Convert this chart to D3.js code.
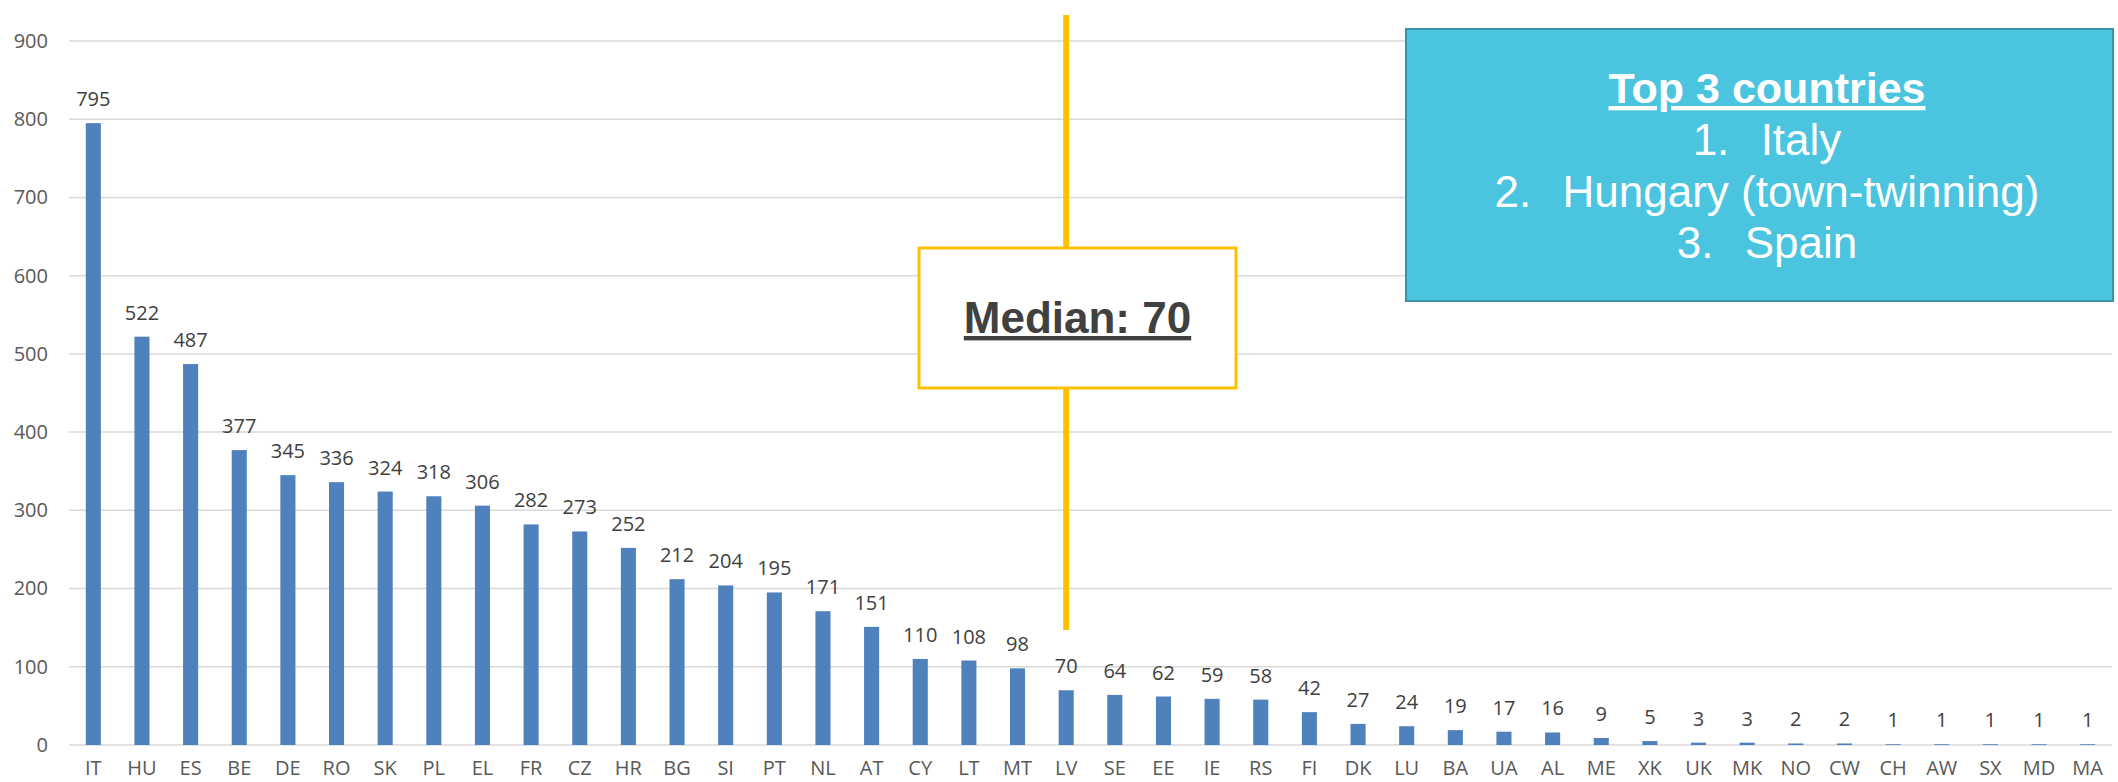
<!DOCTYPE html>
<html>
<head>
<meta charset="utf-8">
<script src="https://cdn.jsdelivr.net/npm/d3@7"></script>
<style>
  body { margin: 0; background: #fff; }
</style>
</head>
<body>
<div id="chart"></div>
<script>
// Data
const countries = ["IT", "HU", "ES", "BE", "DE", "RO", "SK", "PL", "EL", "FR", "CZ", "HR", "BG", "SI",
    "PT", "NL", "AT", "CY", "LT", "MT", "LV", "SE", "EE", "IE", "RS", "FI", "DK", "LU", "BA", "UA",
    "AL", "ME", "XK", "UK", "MK", "NO", "CW", "CH", "AW", "SX", "MD", "MA"];
const values = [795, 522, 487, 377, 345, 336, 324, 318, 306, 282, 273, 252, 212, 204,
    195, 171, 151, 110, 108, 98, 70, 64, 62, 59, 58, 42, 27, 24, 19, 17,
    16, 9, 5, 3, 3, 2, 2, 1, 1, 1, 1, 1];
const yTicks = [0, 100, 200, 300, 400, 500, 600, 700, 800, 900];
const medianCountry = "LV";
const medianLabel = "Median: 70";
const topTitle = "Top 3 countries";
const topList = ["Italy", "Hungary (town-twinning)", "Spain"];

// Set dimensions and margins
const width = 2118;
const height = 782;
const margin = { top: 41, right: 6, bottom: 37, left: 69 };

const svg = d3.select("#chart")
    .append("svg")
    .attr("width", width)
    .attr("height", height);

const data = countries.map((c, i) => ({ country: c, value: values[i] }));

// Scales
const xScale = d3.scaleBand()
    .domain(countries)
    .range([margin.left, width - margin.right])
    .paddingInner(0.69)
    .paddingOuter(0.345);

const yScale = d3.scaleLinear()
    .domain([0, 900])
    .range([height - margin.bottom, margin.top]);

const font = "'Open Sans', sans-serif";
const fs = "20px";

// Gridlines
svg.append("g")
    .selectAll("line")
    .data(yTicks)
    .enter()
    .append("line")
    .attr("x1", margin.left)
    .attr("x2", width - margin.right)
    .attr("y1", d => yScale(d))
    .attr("y2", d => yScale(d))
    .attr("stroke", "#d9d9d9")
    .attr("stroke-width", 1.5);

// Y axis
const yAxis = svg.append("g")
    .attr("transform", `translate(${margin.left - 21},0)`)
    .call(d3.axisLeft(yScale).tickValues(yTicks).tickSize(0).tickPadding(0));
yAxis.select(".domain").remove();
yAxis.selectAll("text")
    .style("font-family", font)
    .style("font-size", fs)
    .attr("fill", "#595959");

// X axis
const xAxis = svg.append("g")
    .attr("transform", `translate(0,${height - margin.bottom})`)
    .call(d3.axisBottom(xScale).tickSize(0).tickPadding(16));
xAxis.select(".domain").remove();
xAxis.selectAll("text")
    .style("font-family", font)
    .style("font-size", fs)
    .attr("fill", "#595959");

// Bars
svg.selectAll("rect.bar")
    .data(data)
    .enter()
    .append("rect")
    .attr("class", "bar")
    .attr("x", d => xScale(d.country))
    .attr("y", d => yScale(d.value))
    .attr("width", xScale.bandwidth())
    .attr("height", d => yScale(0) - yScale(d.value))
    .attr("fill", "#4f81bd");

// Value labels
svg.selectAll("text.val")
    .data(data)
    .enter()
    .append("text")
    .attr("class", "val")
    .attr("x", d => xScale(d.country) + xScale.bandwidth() / 2)
    .attr("y", d => yScale(d.value) - 17)
    .attr("text-anchor", "middle")
    .style("font-family", font)
    .style("font-size", fs)
    .attr("fill", "#404040")
    .text(d => d.value);

// Median line and box
const mx = xScale(medianCountry) + xScale.bandwidth() / 2;
svg.append("line")
    .attr("x1", mx).attr("x2", mx)
    .attr("y1", 15).attr("y2", 630)
    .attr("stroke", "#ffc000")
    .attr("stroke-width", 6);

svg.append("rect")
    .attr("x", 919).attr("y", 248)
    .attr("width", 317).attr("height", 140)
    .attr("fill", "#fff")
    .attr("stroke", "#ffc000")
    .attr("stroke-width", 3);

svg.append("text")
    .attr("x", 1077.5).attr("y", 333)
    .attr("text-anchor", "middle")
    .style("font-family", "'Liberation Sans', Arial, sans-serif")
    .style("font-size", "44px")
    .style("font-weight", "bold")
    .style("text-decoration", "underline")
    .attr("fill", "#404040")
    .text(medianLabel);

// Top 3 box
svg.append("rect")
    .attr("x", 1406).attr("y", 29)
    .attr("width", 707).attr("height", 272)
    .attr("fill", "#4bc4df")
    .attr("stroke", "#3a93a9")
    .attr("stroke-width", 2);

const boxCx = 1767;
svg.append("text")
    .attr("x", boxCx).attr("y", 103)
    .attr("text-anchor", "middle")
    .style("font-family", "'Liberation Sans', Arial, sans-serif")
    .style("font-size", "43px")
    .style("font-weight", "bold")
    .style("text-decoration", "underline")
    .attr("fill", "#fff")
    .text(topTitle);

// numbered lines, centred as a whole (number + tab + label)
const tab = 68;
topList.forEach((label, i) => {
    const y = 155 + i * 51.5;
    const t = svg.append("text")
        .attr("y", y)
        .style("font-family", "'Liberation Sans', Arial, sans-serif")
        .style("font-size", "44px")
        .attr("fill", "#fff")
        .text(label);
    const lw = t.node().getComputedTextLength();
    const x0 = boxCx - (tab + lw) / 2;
    t.attr("x", x0 + tab);
    svg.append("text")
        .attr("x", x0).attr("y", y)
        .style("font-family", "'Liberation Sans', Arial, sans-serif")
        .style("font-size", "44px")
        .attr("fill", "#fff")
        .text(`${i + 1}.`);
});
</script>
</body>
</html>
